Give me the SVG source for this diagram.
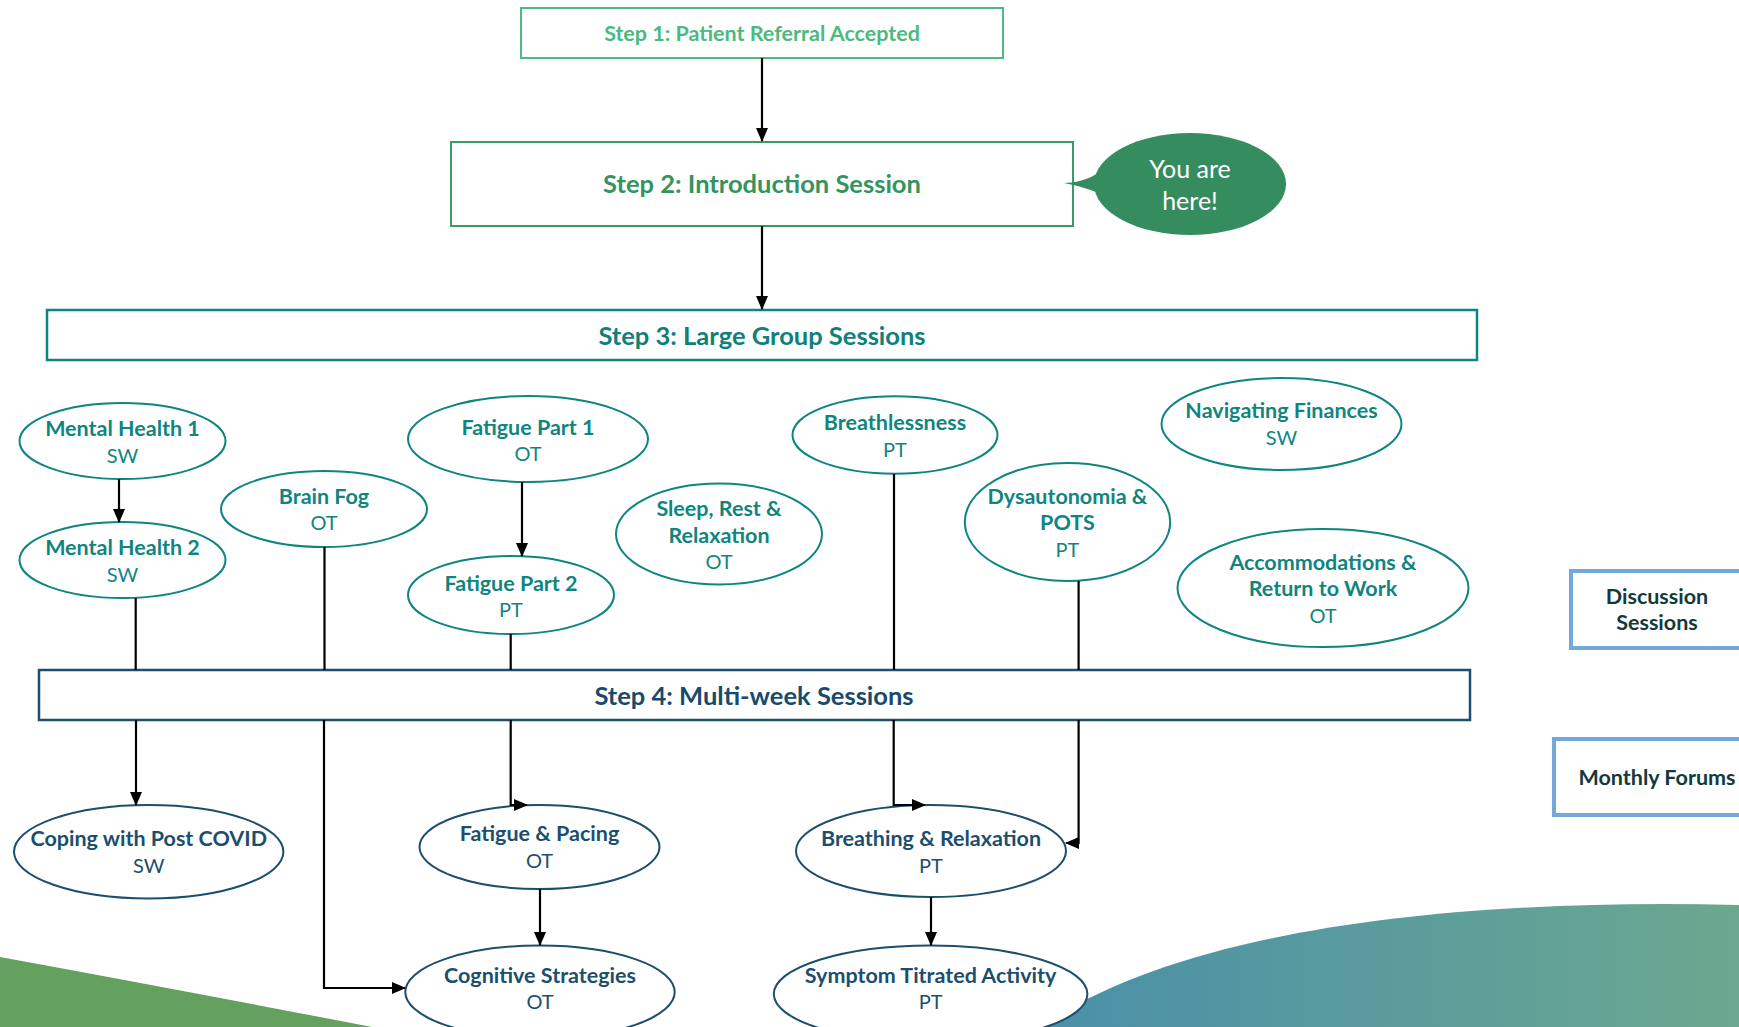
<svg xmlns="http://www.w3.org/2000/svg" width="1739" height="1027" viewBox="0 0 1739 1027">
<defs>
<linearGradient id="blueGrad" x1="0" y1="0" x2="1" y2="0">
<stop offset="0" stop-color="#4A90A9"/>
<stop offset="1" stop-color="#6BA88F"/>
</linearGradient>
<marker id="arr" markerUnits="userSpaceOnUse" markerWidth="14" markerHeight="12" refX="13" refY="6" orient="auto">
<path d="M0,0 L14,6 L0,12 Z" fill="#000"/>
</marker>
<style>
text{font-family:Lato,"Open Sans","Liberation Sans",sans-serif;text-anchor:middle;dominant-baseline:central}
.b{font-weight:bold}
.t3 ellipse{fill:#fff;stroke:#0F8580;stroke-width:2}
.t3 text{fill:#0F8580;font-size:20px}
.t3 text.b{font-size:21.5px}
.t4 ellipse{fill:#fff;stroke:#1C4E6D;stroke-width:2}
.t4 text{fill:#1C4E6D;font-size:20px}
.t4 text.b{font-size:21.5px}
.con path{fill:none;stroke:#000;stroke-width:2.2}
.side rect{fill:#fff;stroke:#74A8DA;stroke-width:4}
.side text{fill:#123A3A;font-size:21.5px;font-weight:bold}
</style>
</defs>

<g id="background">
<path d="M0,957 Q180,990 372,1027 L0,1027 Z" fill="#64A05E"/>
<path d="M1040,1027 C1180,930 1450,898 1739,905 L1739,1027 Z" fill="url(#blueGrad)"/>
</g>

<g id="step1">
<rect x="521" y="8" width="482" height="50" fill="#fff" stroke="#4CBB80" stroke-width="2"/>
<text class="b" x="762" y="33" fill="#4CB97E" font-size="21.5">Step 1: Patient Referral Accepted</text>
</g>

<g id="step2">
<rect x="451" y="142" width="622" height="84" fill="#fff" stroke="#3A9A68" stroke-width="2"/>
<text class="b" x="762" y="183" fill="#34935F" font-size="25.5">Step 2: Introduction Session</text>
</g>

<g id="you-are-here">
<path d="M1064,183 Q1096,182 1110,160 L1118,202 Q1092,188 1064,183 Z" fill="#358D5F"/>
<ellipse cx="1190" cy="184" rx="96" ry="51" fill="#358D5F"/>
<text x="1190" y="168" fill="#fff" font-size="25">You are</text>
<text x="1190" y="200" fill="#fff" font-size="25">here!</text>
</g>

<g id="step3">
<rect x="47" y="310" width="1430" height="50" fill="#fff" stroke="#0F8580" stroke-width="2.5"/>
<text class="b" x="762" y="335" fill="#0F807A" font-size="25.5">Step 3: Large Group Sessions</text>
</g>

<g id="step4">
<rect x="39" y="670" width="1431" height="50" fill="#fff" stroke="#1C4E6D" stroke-width="2.5"/>
<text class="b" x="754" y="695" fill="#1A4A6A" font-size="25.5">Step 4: Multi-week Sessions</text>
</g>

<g id="mental-health-1" class="t3">
<ellipse cx="122.5" cy="441" rx="103" ry="38"/>
<text class="b" x="122.5" y="428">Mental Health 1</text>
<text x="122.5" y="455">SW</text>
</g>
<g id="mental-health-2" class="t3">
<ellipse cx="122.5" cy="560" rx="103" ry="38"/>
<text class="b" x="122.5" y="547">Mental Health 2</text>
<text x="122.5" y="574">SW</text>
</g>
<g id="brain-fog" class="t3">
<ellipse cx="324" cy="509" rx="103" ry="38"/>
<text class="b" x="324" y="496">Brain Fog</text>
<text x="324" y="522">OT</text>
</g>
<g id="fatigue-part-1" class="t3">
<ellipse cx="528" cy="439" rx="120" ry="43"/>
<text class="b" x="528" y="427">Fatigue Part 1</text>
<text x="528" y="453">OT</text>
</g>
<g id="fatigue-part-2" class="t3">
<ellipse cx="511" cy="595" rx="103" ry="39"/>
<text class="b" x="511" y="583">Fatigue Part 2</text>
<text x="511" y="609">PT</text>
</g>
<g id="sleep-rest" class="t3">
<ellipse cx="719" cy="534" rx="103" ry="50.5"/>
<text class="b" x="719" y="508">Sleep, Rest &amp;</text>
<text class="b" x="719" y="535">Relaxation</text>
<text x="719" y="561">OT</text>
</g>
<g id="breathlessness" class="t3">
<ellipse cx="895" cy="435" rx="102.5" ry="38.7"/>
<text class="b" x="895" y="422">Breathlessness</text>
<text x="895" y="449">PT</text>
</g>
<g id="navigating-finances" class="t3">
<ellipse cx="1281.5" cy="424" rx="120" ry="46"/>
<text class="b" x="1281.5" y="410">Navigating Finances</text>
<text x="1281.5" y="437">SW</text>
</g>
<g id="dysautonomia" class="t3">
<ellipse cx="1067.5" cy="522" rx="102.7" ry="59"/>
<text class="b" x="1067.5" y="496">Dysautonomia &amp;</text>
<text class="b" x="1067.5" y="522">POTS</text>
<text x="1067.5" y="549">PT</text>
</g>
<g id="accommodations" class="t3">
<ellipse cx="1323" cy="588" rx="145.5" ry="59"/>
<text class="b" x="1323" y="562">Accommodations &amp;</text>
<text class="b" x="1323" y="588">Return to Work</text>
<text x="1323" y="615">OT</text>
</g>

<g id="coping" class="t4">
<ellipse cx="148.7" cy="851.7" rx="134.7" ry="46.7"/>
<text class="b" x="148.7" y="838">Coping with Post COVID</text>
<text x="148.7" y="865">SW</text>
</g>
<g id="fatigue-pacing" class="t4">
<ellipse cx="539.5" cy="847" rx="120" ry="42"/>
<text class="b" x="539.5" y="833">Fatigue &amp; Pacing</text>
<text x="539.5" y="860">OT</text>
</g>
<g id="cognitive" class="t4">
<ellipse cx="540" cy="992" rx="134.7" ry="46.5"/>
<text class="b" x="540" y="975">Cognitive Strategies</text>
<text x="540" y="1001">OT</text>
</g>
<g id="breathing-relaxation" class="t4">
<ellipse cx="931" cy="851" rx="135" ry="46"/>
<text class="b" x="931" y="838">Breathing &amp; Relaxation</text>
<text x="931" y="865">PT</text>
</g>
<g id="symptom" class="t4">
<ellipse cx="930.6" cy="994" rx="156.8" ry="48.5"/>
<text class="b" x="930.6" y="975">Symptom Titrated Activity</text>
<text x="930.6" y="1001">PT</text>
</g>

<g id="discussion" class="side">
<rect x="1571" y="571" width="180" height="77"/>
<text x="1657" y="596">Discussion</text>
<text x="1657" y="622">Sessions</text>
</g>
<g id="monthly" class="side">
<rect x="1554" y="739" width="200" height="76"/>
<text x="1657" y="777">Monthly Forums</text>
</g>

<g id="connectors" class="con">
<path d="M762,58 V141" marker-end="url(#arr)"/>
<path d="M762,226 V309" marker-end="url(#arr)"/>
<path d="M119,479 V522" marker-end="url(#arr)"/>
<path d="M522,482 V556" marker-end="url(#arr)"/>
<path d="M135.7,598 V670"/>
<path d="M324.5,547 V670"/>
<path d="M510.7,634 V670"/>
<path d="M894,474 V670"/>
<path d="M1078.6,581 V670"/>
<path d="M136,720 V805" marker-end="url(#arr)"/>
<path d="M324,720 V988 H405" marker-end="url(#arr)"/>
<path d="M510.7,720 V805 H527" marker-end="url(#arr)"/>
<path d="M540,889 V945" marker-end="url(#arr)"/>
<path d="M893.7,720 V805 H925" marker-end="url(#arr)"/>
<path d="M1078.6,720 V843 H1066" marker-end="url(#arr)"/>
<path d="M931,897 V945" marker-end="url(#arr)"/>
</g>
</svg>
